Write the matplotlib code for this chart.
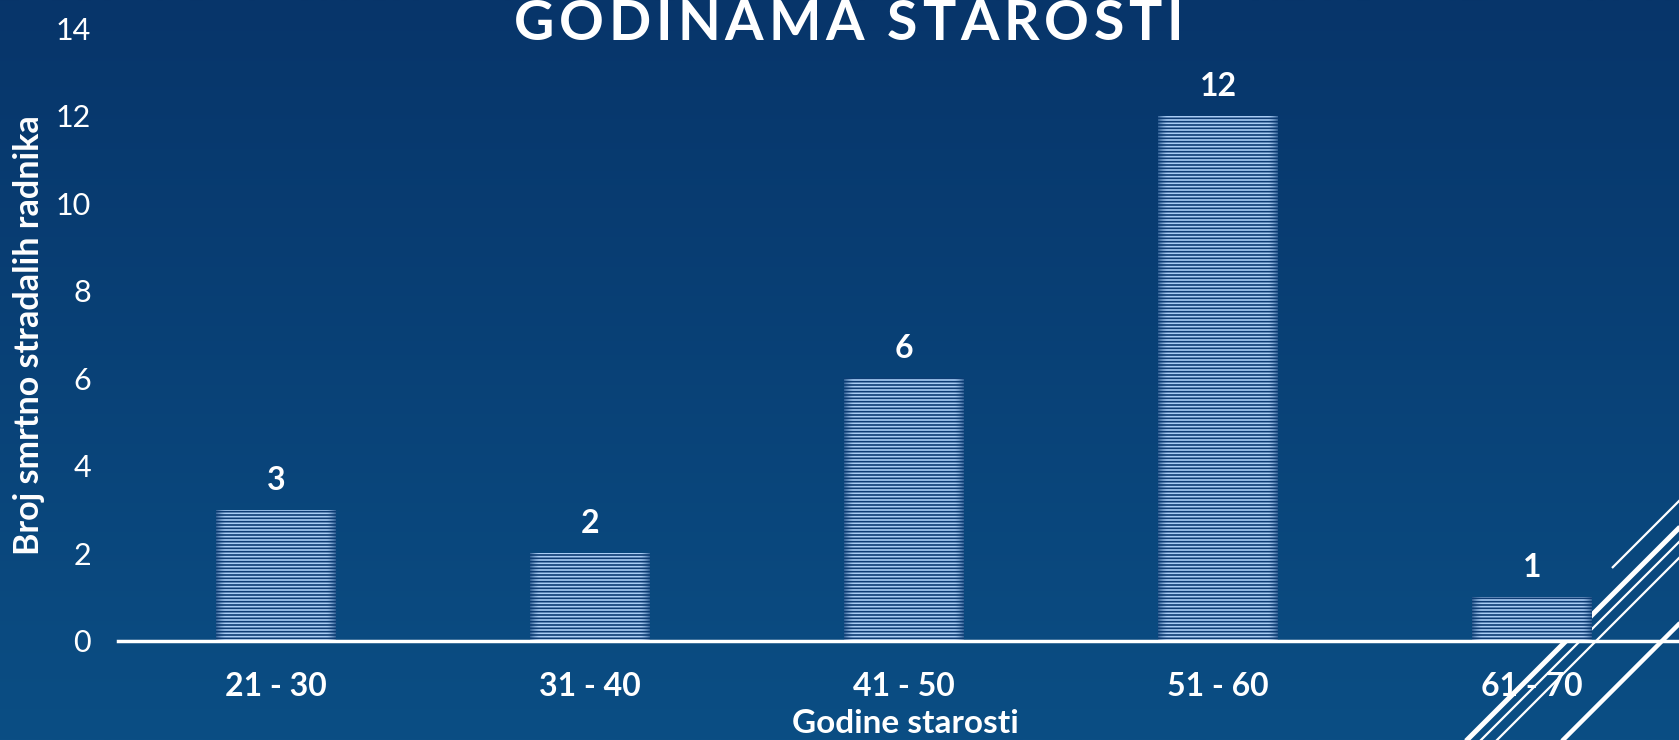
import numpy as np
import matplotlib
matplotlib.use('Agg')
import matplotlib.pyplot as plt
from matplotlib.colors import to_rgb
from matplotlib.font_manager import FontProperties

categories = ['21 - 30', '31 - 40', '41 - 50', '51 - 60', '61 - 70']
values = [3, 2, 6, 12, 1]
yticks = [0, 2, 4, 6, 8, 10, 12, 14]
title = 'GODINAMA STAROSTI'
xlabel = 'Godine starosti'
ylabel = 'Broj smrtno stradalih radnika'

W, H = 1679, 740
FAM = ['Lato', 'DejaVu Sans']
plt.rcParams['hatch.linewidth'] = 1.2
fig = plt.figure(figsize=(W / 100, H / 100), dpi=100)

# background gradient
bg = fig.add_axes([0, 0, 1, 1], zorder=-10)
top = np.array(to_rgb('#07356a'))
bot = np.array(to_rgb('#0b4e84'))
t = np.linspace(0, 1, 256)[:, None]
grad = top * (1 - t) + bot * t
bg.imshow(grad[:, None, :], aspect='auto', extent=[0, 1, 0, 1], origin='upper')
bg.set_xlim(0, 1)
bg.set_ylim(0, 1)
bg.axis('off')

# decorative diagonal lines (pixel coords, top origin)
def px_line(p0, p1, lw):
    bg.plot([p0[0] / W, p1[0] / W], [1 - p0[1] / H, 1 - p1[1] / H],
            color='white', lw=lw, solid_capstyle='butt', clip_on=False)

px_line((1612, 568), (1720, 460), 1.6)
px_line((1440, 767), (1720, 487), 3.6)
px_line((1450, 771), (1720, 501), 1.6)
px_line((1470, 767), (1720, 517), 1.6)
px_line((1540, 763), (1720, 583), 3.2)

# main axes
ax = fig.add_axes([118 / W, 99 / H, 1 - 118 / W, (641 - 28) / H])
ax.set_facecolor('none')
x = np.arange(len(values))
bars = ax.bar(x, values, width=0.38, color='#a9cdf5', edgecolor='#0e3b73',
              linewidth=0, hatch='-----', zorder=2)

# darker fade at bar edges
n = 200
xs = np.linspace(0, 1, n)
d = np.minimum(xs, 1 - xs)
alpha = 0.7 * np.clip(1 - d / 0.08, 0, 1) ** 1.5
rgba = np.zeros((1, n, 4))
rgba[..., :3] = to_rgb('#0b3d75')
rgba[..., 3] = alpha
for b in bars:
    x0, w, h = b.get_x(), b.get_width(), b.get_height()
    im = ax.imshow(rgba, extent=[x0, x0 + w, 0, h], aspect='auto', zorder=3,
                   interpolation='bilinear')
    im.set_clip_path(b)

for b, v in zip(bars, values):
    ax.annotate(str(v), (b.get_x() + b.get_width() / 2, v), xytext=(0, 14.4),
                textcoords='offset points', ha='center', va='baseline',
                fontsize=23, fontweight='bold', color='white', family=FAM)

ax.set_xlim(-0.503, 4.468)
ax.set_ylim(0, 14)
for s in ['top', 'right', 'left']:
    ax.spines[s].set_visible(False)
ax.spines['bottom'].set_color('white')
ax.spines['bottom'].set_linewidth(2.5)
ax.spines['bottom'].set_zorder(5)

ax.set_yticks(yticks)
ax.set_yticklabels([str(v) for v in yticks], fontsize=22, fontweight='normal',
                   color='white', family=FAM)
ax.tick_params(axis='y', length=0, pad=19.4)
ax.set_xticks(x)
ax.set_xticklabels(categories, fontsize=23, fontweight='bold', color='white', family=FAM)
ax.tick_params(axis='x', length=0, pad=22)

ax.set_xlabel(xlabel, fontsize=24, fontweight='bold', color='white', family=FAM)
ax.xaxis.set_label_coords((905 - 118) / (W - 118), (7 - 99) / (641 - 28))
ax.xaxis.label.set_va('baseline')
ax.set_ylabel(ylabel, fontsize=24.5, fontweight='bold', color='white', family=FAM)
ax.yaxis.set_label_coords((29 - 118) / (W - 118), (641 - 335 - 99 + 99 - 99) / (641 - 28) + 0.0)
ax.yaxis.set_label_coords((29 - 118) / (W - 118), ((740 - 335) - 99) / (641 - 28))
ax.yaxis.label.set_va('center')

# title with letter spacing
fig.canvas.draw()
r = fig.canvas.get_renderer()
fp = FontProperties(family=FAM, weight='bold', size=40)
def tw(s):
    return r.get_text_width_height_descent(s, fp, ismath=False)[0]
natural = tw(title)
sp = (669 - natural) / (len(title) - 1)
x0 = 514
for i, ch in enumerate(title):
    if ch == ' ':
        continue
    xi = tw(title[:i + 1]) - tw(ch)
    fig.text((x0 + xi + i * sp) / W, 1 - 40 / H, ch, fontproperties=fp,
             color='white', ha='left', va='baseline')

fig.savefig('out.png', dpi=100)
